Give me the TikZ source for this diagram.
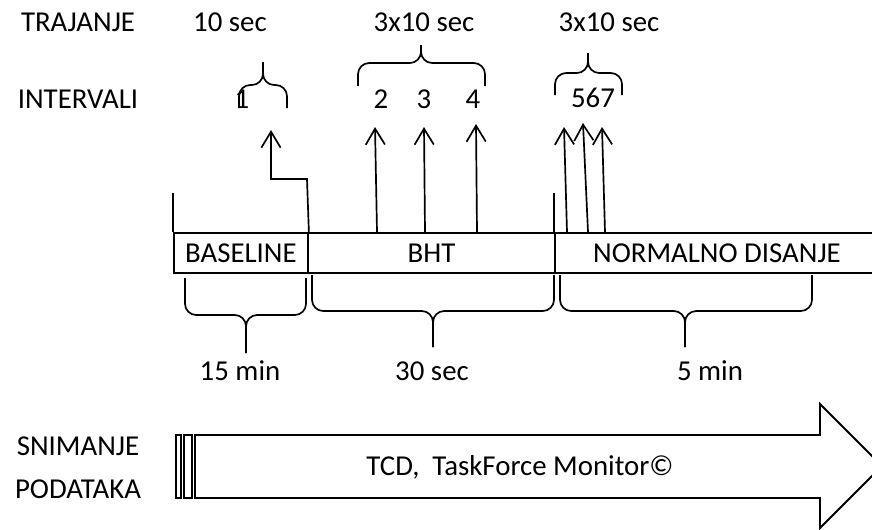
\documentclass[tikz,border=0pt]{standalone}
\usepackage{fontspec}
\setmainfont{Carlito}
\usetikzlibrary{arrows.meta,positioning,calc}

% curly brace with square legs: x left, x right, y ends, y flat, x tip, y tip
\newcommand{\wordbrace}[6]{%
  \draw[brc] (#1,#3) -- (#1,#4) -- (#5,#4) -- (#5,#6);
  \draw[brc] (#2,#3) -- (#2,#4) -- (#5,#4) -- (#5,#6);}

\begin{document}
\begin{tikzpicture}[x=0.025cm, y=-0.025cm,
  lbl/.style={font=\fontsize{20.5}{30}\selectfont, inner sep=0pt, anchor=base, align=center},
  seg/.style={draw, line width=1.3pt, minimum height=1cm, inner sep=0pt,
    anchor=north west, font=\fontsize{20.5}{24}\selectfont},
  ln/.style={line width=1.3pt},
  arr/.style={-{Straight Barb[length=4mm,width=4.8mm]}, line width=1.2pt},
  brc/.style={line width=1.2pt, rounded corners=0.28cm}
]
  \clip (0,0) rectangle (872,529);

  % left column
  \node[lbl] (traj) at (78,31) {TRAJANJE};
  \node[lbl] (int) at (78,108) {INTERVALI};
  \node[lbl] (snim) at (78,498) {SNIMANJE\\PODATAKA};

  % durations on top
  \node[lbl] (d1) at (230,31) {10 sec};
  \node[lbl] (d2) at (424,31) {3x10 sec};
  \node[lbl] (d3) at (609,31) {3x10 sec};

  % interval numbers
  \node[lbl] (i1) at (242,108) {1};
  \node[lbl] (i2) at (381,108) {2};
  \node[lbl] (i3) at (424,108) {3};
  \node[lbl] (i4) at (473,108) {4};
  \node[lbl] (i567) at (593,107) {567};

  \wordbrace{239}{287}{108}{85}{263}{62}
  \wordbrace{358}{485}{86}{63}{421}{45}
  \wordbrace{555}{622}{95}{73}{588}{53}

  % phases
  \node[seg, minimum width=3.35cm] (base) at (173,232) {BASELINE};
  \node[seg, minimum width=6.175cm] (bht) at (307,232) {BHT};
  \node[seg, minimum width=8.1cm] (norm) at (554,232) {NORMALNO DISANJE};

  \draw[ln] (base.north west) -- ++(0,-39);
  \draw[ln] (norm.north west) -- ++(0,-39);

  % arrows to intervals
  \coordinate (k1) at (307,179);
  \coordinate (t1) at (271,130);
  \draw[arr] (base.north east) -- (k1) -| (t1);
  \foreach \bx/\tx/\ty [count=\n from 2] in {377/375/127, 425/424/127, 477/476/124}{
    \coordinate (t\n) at (\tx,\ty);
    \draw[arr] (bht.north -| \bx,0) -- (t\n);
  }
  \foreach \bx/\tx/\ty [count=\n from 5] in {567/564/127, 588/583/123, 605/602/127}{
    \coordinate (t\n) at (\tx,\ty);
    \draw[arr] (norm.north -| \bx,0) -- (t\n);
  }

  % durations below
  \wordbrace{185}{306}{278}{315}{246}{353}
  \wordbrace{312}{554}{275}{311}{433}{347}
  \wordbrace{560}{812}{275}{311}{685}{347}
  \node[lbl] (m1) at (240,380) {15 min};
  \node[lbl] (m2) at (432,380) {30 sec};
  \node[lbl] (m3) at (710,380) {5 min};

  % recording
  \draw[line width=1pt] (176,435) rectangle (181,498);
  \draw[line width=1pt] (184,435) rectangle (192,498);
  \draw[ln] (195,435) -- (820,435) -- (820,404) -- (882,466)
    -- (820,528) -- (820,498) -- (195,498) -- cycle;
  \node[lbl] (rec) at (520,475) {TCD,\ \ TaskForce Monitor©};
\end{tikzpicture}
\end{document}
